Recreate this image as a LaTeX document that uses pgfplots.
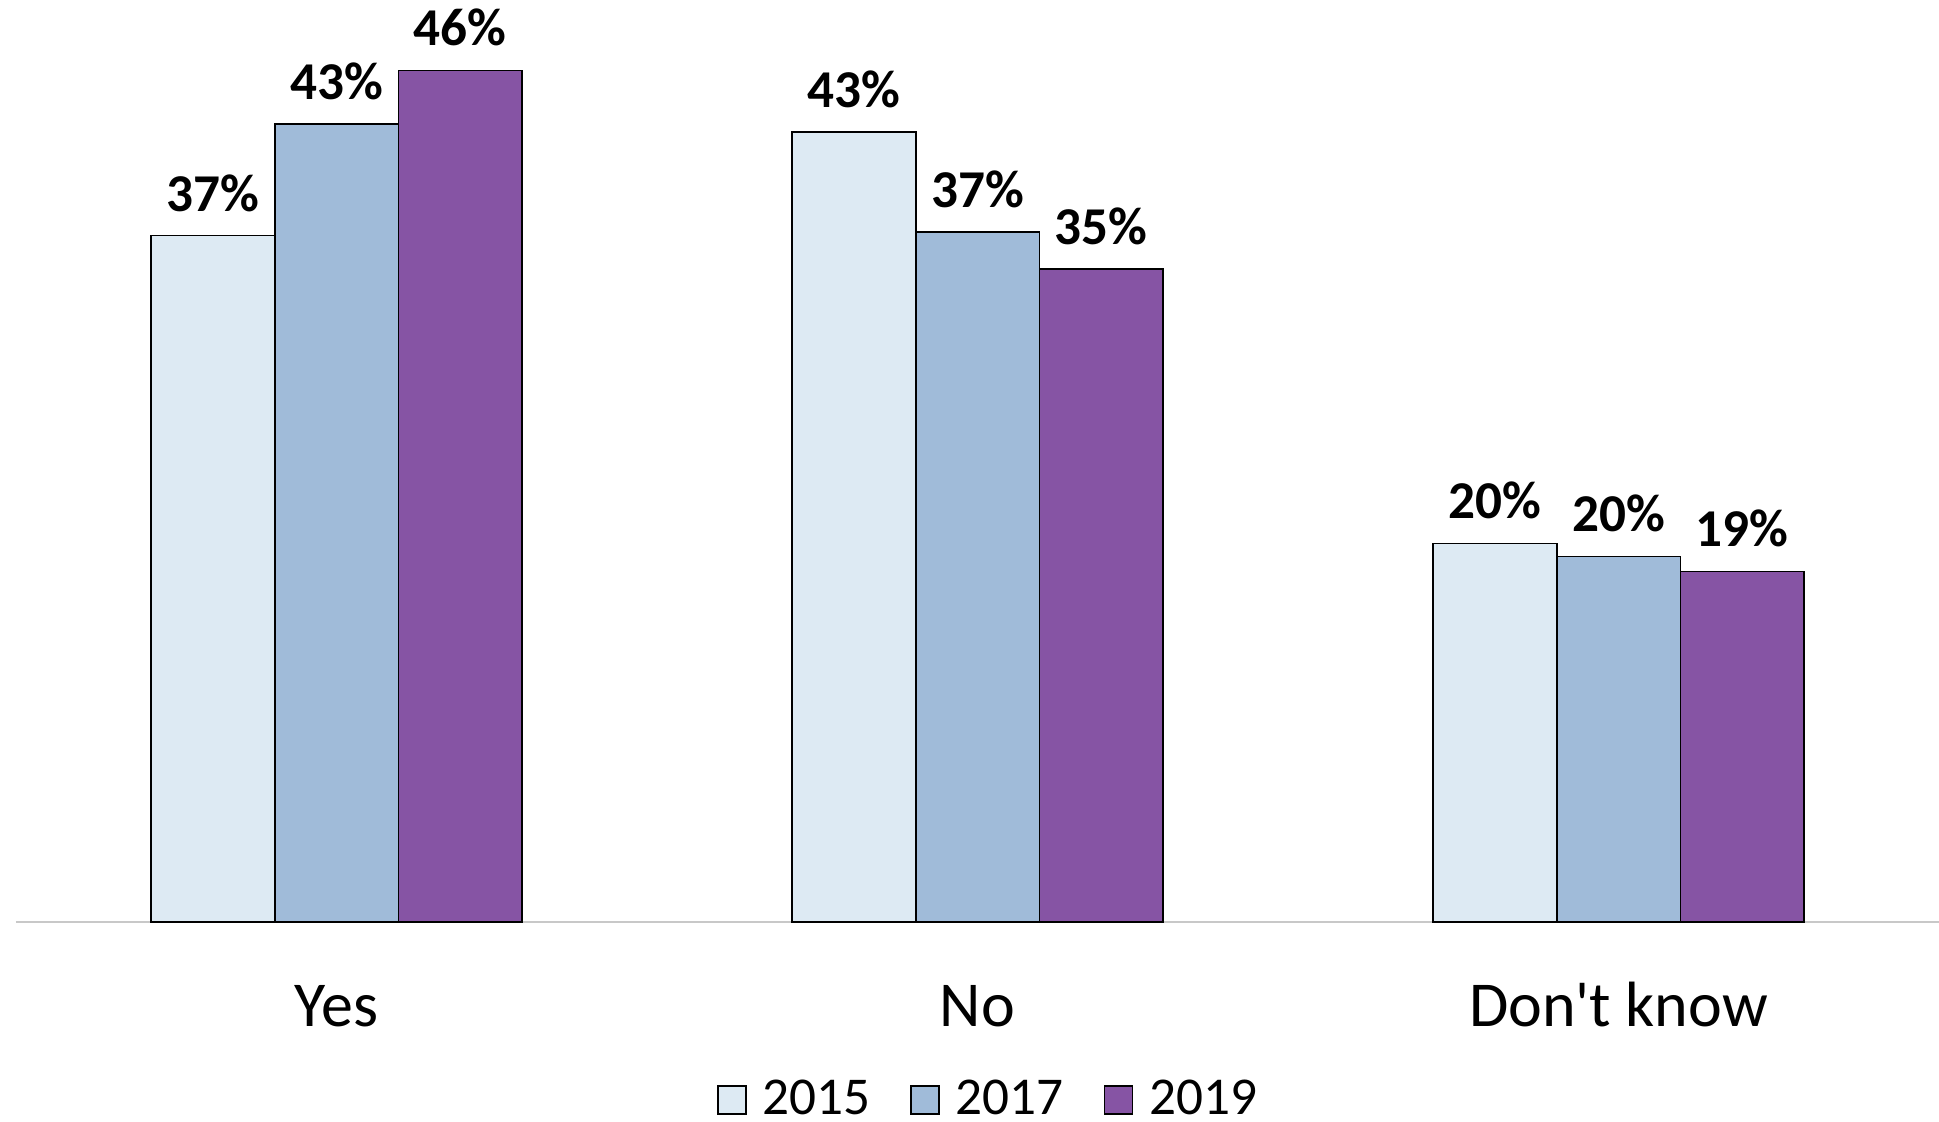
\documentclass[border=0pt]{standalone}
\usepackage{pgfplots}
\pgfplotsset{compat=1.18}
\usepackage{fontspec}
\setmainfont{Carlito}[Ligatures=TeXOff]

\definecolor{c2015}{RGB}{221,234,243}
\definecolor{c2017}{RGB}{160,187,217}
\definecolor{c2019}{RGB}{134,84,164}
\definecolor{axisgray}{RGB}{200,200,200}

\begin{document}
\begin{tikzpicture}
\begin{axis}[
    scale only axis,
    width=480.75pt, height=230.5pt,
    ybar=0pt,
    bar width=30.9pt,
    xmin=-0.5, xmax=2.5,
    ymin=0, ymax=49.7,
    xtick=data,
    xticklabels={Yes, No, Don't know},
    xtick style={draw=none},
    x tick label style={font=\fontsize{16}{19}\selectfont, anchor=base, yshift=-21.75pt},
    axis x line*=bottom,
    axis y line=none,
    x axis line style={axisgray, line width=0.5pt, -},
    nodes near coords={\pgfmathprintnumber[fixed,precision=0]{\pgfplotspointmeta}\%},
    every node near coord/.append style={font=\fontsize{13.3}{16}\selectfont\bfseries, black, yshift=2.5pt},
    /pgf/number format/assume math mode=true,
    clip=false,
    legend columns=3,
    legend style={draw=none, fill=none, at={(rel axis cs:0.5,0)}, anchor=center,
        xshift=3.4pt, yshift=-44.5pt,
        font=\fontsize{13.3}{15}\selectfont,
        /tikz/every odd column/.append style={column sep=2pt},
        /tikz/every even column/.append style={column sep=8pt}},
    legend image code/.code={\draw[#1, draw=black, line width=0.4pt] (0pt,-3.5pt) rectangle (7pt,3.5pt);},
]
\addplot[fill=c2015, draw=black, line width=0.4pt] coordinates {(0,37.0) (1,42.6) (2,20.4)};
\addplot[fill=c2017, draw=black, line width=0.4pt] coordinates {(0,43.0) (1,37.2) (2,19.7)};
\addplot[fill=c2019, draw=black, line width=0.4pt] coordinates {(0,45.9) (1,35.2) (2,18.9)};
\legend{2015, 2017, 2019}
\end{axis}
\pgfresetboundingbox
\useasboundingbox ([xshift=-4pt,yshift=-50pt]current axis.south west) rectangle (current axis.north east);
\end{tikzpicture}
\end{document}
